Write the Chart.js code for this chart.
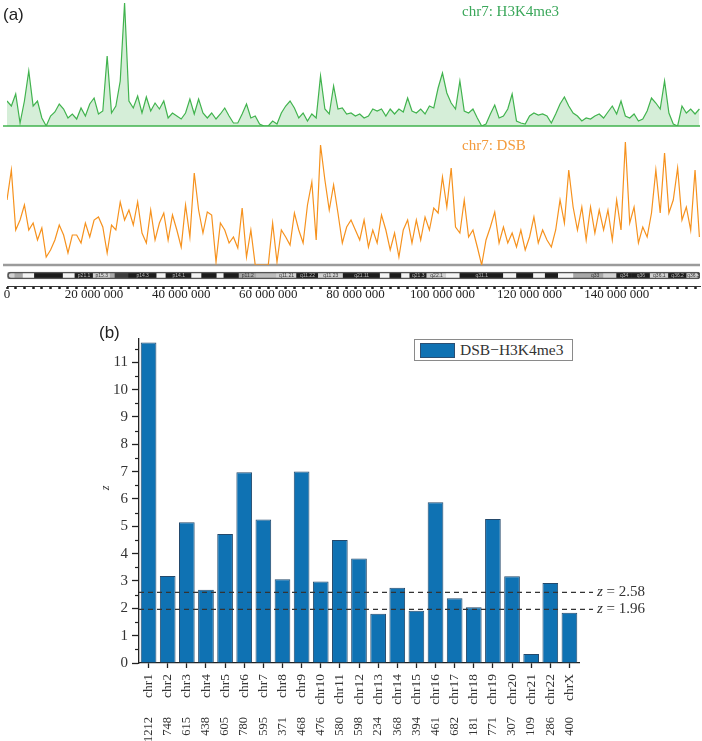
<!DOCTYPE html>
<html>
<head>
<meta charset="utf-8">
<script src="https://cdn.jsdelivr.net/npm/chart.js@4/dist/chart.umd.min.js"></script>
<style>
body { margin: 0; background: #fff; }
#wrap { position: relative; width: 702px; height: 741px; overflow: hidden; font-family: 'Liberation Serif', serif; }
canvas { position: absolute; left: 0; }
.lbl { position: absolute; white-space: nowrap; line-height: 1; }
</style>
</head>
<body>
<div id="wrap">
  <canvas id="green" width="702" height="128" style="top:0"></canvas>
  <canvas id="orange" width="702" height="137" style="top:130px"></canvas>
  <canvas id="ideo" width="702" height="48" style="top:262px"></canvas>
  <canvas id="bars" width="702" height="431" style="top:310px"></canvas>

  <div class="lbl" style="left:3px;top:5px;font:17px 'Liberation Sans',sans-serif;color:#222">(a)</div>
  <div class="lbl" style="left:462px;top:4px;font-size:15px;color:#3aa75a">chr7: H3K4me3</div>
  <div class="lbl" style="left:462px;top:138px;font-size:15px;color:#f39a3b">chr7: DSB</div>
  <div class="lbl" style="left:99px;top:323px;font:17px 'Liberation Sans',sans-serif;color:#222">(b)</div>
  <div class="lbl" style="left:103px;top:482px;font-size:12px;font-style:italic;color:#333;transform:rotate(-90deg)">z</div>
  <div class="lbl" style="left:414px;top:339px;width:157px;height:20px;border:1px solid #8a8a8a;background:#fff">
    <div style="position:absolute;left:5px;top:3px;width:33px;height:13px;background:#0f72b3;border:1px solid #2a4f73"></div>
    <div style="position:absolute;left:45px;top:2px;font-size:15.5px;color:#333">DSB&minus;H3K4me3</div>
  </div>
</div>
<script>
// chr7 tracks, 1 Mb bins
var binSize = 1e6;
var chrLength = 159138663;
var minorStep = 2e6;
var labelStep = 20e6;

var h3k4me3 = [
  25, 20, 32, 3, 25, 55, 20, 25, 8, 0,
  10, 14, 22, 17, 8, 12, 7, 18, 10, 22,
  28, 12, 15, 70, 13, 20, 45, 123, 25, 18,
  30, 13, 29, 15, 23, 17, 25, 8, 13, 10,
  7, 13, 27, 12, 27, 13, 8, 13, 7, 12,
  18, 10, 3, 3, 12, 22, 8, 10, 2, 0,
  0, 5, 2, 13, 20, 25, 18, 8, 13, 5,
  12, 8, 50, 17, 12, 40, 17, 18, 12, 13,
  10, 12, 8, 10, 17, 15, 17, 10, 17, 12,
  17, 14, 28, 15, 13, 17, 12, 20, 18, 38,
  53, 33, 23, 17, 45, 15, 13, 17, 8, 0,
  2, 12, 21, 8, 10, 17, 32, 5, 3, 2,
  10, 13, 11, 12, 10, 3, 12, 22, 29, 20,
  13, 10, 5, 8, 7, 10, 12, 8, 14, 20,
  12, 25, 10, 8, 12, 5, 7, 15, 28, 23,
  17, 45, 13, 2, 0, 20, 13, 17, 12, 17
];

var dsb = [
  65, 95, 35, 45, 60, 35, 42, 25, 37, 8,
  15, 25, 40, 30, 12, 30, 30, 22, 42, 28,
  45, 48, 38, 12, 40, 35, 63, 45, 55, 40,
  63, 32, 22, 55, 25, 42, 52, 25, 50, 35,
  18, 60, 28, 92, 55, 32, 53, 50, 3, 42,
  35, 22, 28, 17, 57, 8, 35, 0, 0, 0,
  0, 42, 3, 35, 28, 20, 52, 35, 22, 60,
  83, 25, 120, 85, 55, 80, 52, 22, 38, 45,
  35, 25, 45, 18, 35, 22, 50, 35, 15, 32,
  8, 35, 45, 22, 45, 25, 48, 35, 57, 52,
  88, 58, 97, 38, 32, 65, 28, 35, 18, 0,
  25, 38, 53, 22, 38, 22, 32, 18, 35, 15,
  28, 48, 22, 35, 25, 18, 35, 65, 42, 95,
  58, 35, 58, 25, 58, 32, 55, 35, 55, 25,
  65, 35, 123, 42, 58, 22, 38, 28, 52, 95,
  52, 112, 52, 65, 97, 45, 58, 35, 95, 28
];

// ideogram bands (Mb)
var bandStart = [0, 1.8, 3.7, 6.3, 12.9, 15.6, 19.8, 23.7, 24.8, 27.9, 34.4, 36.5, 42.4, 44.7, 48.2, 49.8, 53.3, 57.3, 61.9, 66.5, 71.5, 77.2, 85.7, 87.9, 90.6, 92.5, 96.4, 100.9, 104, 114, 117, 120.9, 123.6, 126.6, 130.1, 133.1, 137, 140, 143.4, 147.7, 151.9, 156.1];
var bandEnd = [1.8, 3.7, 6.3, 12.9, 15.6, 19.8, 23.7, 24.8, 27.9, 34.4, 36.5, 42.4, 44.7, 48.2, 49.8, 53.3, 57.3, 61.9, 66.5, 71.5, 77.2, 85.7, 87.9, 90.6, 92.5, 96.4, 100.9, 104, 114, 117, 120.9, 123.6, 126.6, 130.1, 133.1, 137, 140, 143.4, 147.7, 151.9, 156.1, 159.14];
var bandStain = ['light', 'gray', 'white', 'black', 'white', 'black', 'light', 'gray', 'dark', 'black', 'white', 'black', 'white', 'black', 'white', 'black', 'gray', 'cen', 'light', 'black', 'light', 'black', 'white', 'black', 'white', 'black', 'light', 'white', 'black', 'white', 'black', 'white', 'black', 'white', 'gray', 'gray', 'light', 'black', 'black', 'light', 'black', 'light'];
var bandName = ['', '', '', '', '', 'p21.1', 'p15.3', '', '', 'p14.3', '', 'p14.1', '', '', '', '', 'p11.2', '', 'q11.21', 'q11.22', 'q11.23', 'q21.11', '', '', '', 'q21.3', 'q22.1', '', 'q31.1', '', '', '', '', '', '', 'q33', '', 'q34', 'q36', 'q36.1', 'q36.2', 'q36.3'];
var stainColor = { white: '#f4f4f4', light: '#d2d2d2', gray: '#a8a8a8', cen: '#bdbdbd', dark: '#3c3c3c', black: '#1c1c1c' };

// panel (b)
var chromosomes = ['chr1', 'chr2', 'chr3', 'chr4', 'chr5', 'chr6', 'chr7', 'chr8', 'chr9', 'chr10', 'chr11', 'chr12', 'chr13', 'chr14', 'chr15', 'chr16', 'chr17', 'chr18', 'chr19', 'chr20', 'chr21', 'chr22', 'chrX'];
var zScores = [11.72, 3.18, 5.15, 2.68, 4.72, 6.98, 5.25, 3.06, 7.0, 2.98, 4.5, 3.82, 1.8, 2.75, 1.91, 5.88, 2.37, 2.04, 5.27, 3.17, 0.33, 2.93, 1.84];
var counts = [1212, 748, 615, 438, 605, 780, 595, 371, 468, 476, 580, 598, 234, 368, 394, 461, 682, 181, 771, 307, 109, 286, 400];
var thresholds = [2.58, 1.96];

Chart.defaults.font.family = "'Liberation Serif', serif";
Chart.defaults.animation = false;
Chart.defaults.plugins.legend.display = false;
Chart.defaults.plugins.tooltip.enabled = false;

function toPoints(arr) {
    return arr.map(function (v, i) { return {x: i * binSize, y: v}; });
}

function fmt(v) {
    return String(Math.round(v)).replace(/\B(?=(\d{3})+(?!\d))/g, ' ');
}

// baseline under a track
function baseline(color, width) {
    return {
        id: 'baseline',
        beforeDatasetsDraw: function (chart) {
            var ctx = chart.ctx, a = chart.chartArea;
            var py = chart.scales.y.getPixelForValue(0);
            ctx.save();
            ctx.strokeStyle = color;
            ctx.lineWidth = width;
            ctx.beginPath();
            ctx.moveTo(3, py);
            ctx.lineTo(a.right, py);
            ctx.stroke();
            ctx.restore();
        }
    };
}

function trackChart(id, values, color, fillColor, max, pad, base) {
    return new Chart(document.getElementById(id), {
        type: 'line',
        data: {
            datasets: [{
                data: toPoints(values),
                borderColor: color,
                backgroundColor: fillColor,
                fill: fillColor ? 'origin' : false,
                borderWidth: 1.2,
                pointRadius: 0,
                tension: 0
            }]
        },
        options: {
            responsive: false,
            layout: {padding: pad},
            scales: {
                x: {type: 'linear', display: false, min: 0, max: chrLength},
                y: {display: false, min: 0, max: max}
            }
        },
        plugins: [base]
    });
}

// Green track
trackChart('green', h3k4me3, '#41b34e', 'rgba(65,179,78,0.22)', 124, {left: 7, right: 2, top: 2, bottom: 2}, baseline('#41b34e', 1.5));

// Orange track
trackChart('orange', dsb, '#f6921e', null, 125, {left: 7, right: 2, top: 10, bottom: 2}, baseline('#9b9b9b', 2.5));

// Ideogram + coordinate axis
var bandLabels = {
    id: 'bandLabels',
    afterDatasetsDraw: function (chart) {
        var ctx = chart.ctx, x = chart.scales.x;
        var cy = (chart.chartArea.top + chart.chartArea.bottom) / 2;
        ctx.save();
        ctx.font = "5px 'Liberation Sans', sans-serif";
        ctx.textAlign = 'center';
        ctx.textBaseline = 'middle';
        bandName.forEach(function (n, i) {
            if (!n) return;
            var dark = bandStain[i] === 'black' || bandStain[i] === 'dark';
            ctx.fillStyle = dark ? '#bbbbbb' : '#333333';
            ctx.fillText(n, x.getPixelForValue((bandStart[i] + bandEnd[i]) / 2 * 1e6), cy);
        });
        ctx.restore();
    }
};

new Chart(document.getElementById('ideo'), {
    type: 'bar',
    data: {
        labels: ['chr7'],
        datasets: [{
            data: [{x: [0, chrLength], y: 'chr7'}],
            backgroundColor: 'rgba(0,0,0,0)',
            borderColor: '#555',
            borderWidth: 1,
            borderSkipped: false,
            borderRadius: 3,
            barThickness: 7
        }, {
            data: bandStart.map(function (s, i) { return {x: [s * 1e6, bandEnd[i] * 1e6], y: 'chr7'}; }),
            backgroundColor: bandStain.map(function (s) { return stainColor[s]; }),
            borderWidth: 0,
            barThickness: 6
        }]
    },
    options: {
        responsive: false,
        indexAxis: 'y',
        grouped: false,
        layout: {padding: {left: 7, right: 2, top: 3, bottom: 0}},
        scales: {
            y: {display: false},
            x: {
                type: 'linear', min: 0, max: chrLength,
                afterFit: function (s) { s.height = 24; },
                afterBuildTicks: function (s) {
                    var t = [];
                    for (var v = 0; v <= s.max; v += minorStep) t.push({value: v});
                    s.ticks = t;
                },
                border: {color: '#333', width: 1},
                grid: {drawOnChartArea: false, tickLength: 3, tickWidth: 2.5, tickColor: '#222'},
                ticks: {
                    autoSkip: false, maxRotation: 0, minRotation: 0, padding: -2,
                    color: '#222', font: {size: 13},
                    callback: function (v) { return v % labelStep === 0 ? fmt(v) : ''; }
                }
            }
        }
    },
    plugins: [bandLabels]
});

// Bar chart extras: minor ticks, thresholds
var barExtras = {
    id: 'barExtras',
    afterDatasetsDraw: function (chart) {
        var ctx = chart.ctx, a = chart.chartArea, y = chart.scales.y;
        ctx.save();
        ctx.strokeStyle = '#222';
        ctx.lineWidth = 1.2;
        for (var v = 0.5; v < y.max; v += 1) {
            var py = Math.round(y.getPixelForValue(v)) + 0.5;
            ctx.beginPath();
            ctx.moveTo(a.left - 4, py);
            ctx.lineTo(a.left, py);
            ctx.stroke();
        }
        ctx.setLineDash([5, 4]);
        ctx.strokeStyle = '#333';
        ctx.lineWidth = 1.3;
        ctx.fillStyle = '#333';
        ctx.textBaseline = 'middle';
        thresholds.forEach(function (t) {
            var py = y.getPixelForValue(t);
            ctx.beginPath();
            ctx.moveTo(a.left, py);
            ctx.lineTo(a.right + 14, py);
            ctx.stroke();
            var tx = a.right + 18;
            ctx.font = "italic 15px 'Liberation Serif', serif";
            ctx.fillText('z', tx, py);
            tx += ctx.measureText('z').width;
            ctx.font = "15px 'Liberation Serif', serif";
            ctx.fillText(' = ' + t.toFixed(2), tx, py);
        });
        ctx.restore();
    }
};

new Chart(document.getElementById('bars'), {
    type: 'bar',
    data: {
        labels: chromosomes,
        datasets: [{
            label: 'DSB\u2212H3K4me3',
            data: zScores,
            backgroundColor: '#0f72b3',
            borderColor: '#24496b',
            borderWidth: 1,
            categoryPercentage: 1,
            barPercentage: 0.82
        }]
    },
    options: {
        responsive: false,
        layout: {padding: {left: 100, right: 123, top: 29, bottom: 0}},
        scales: {
            y: {
                min: 0, max: 11.85,
                afterFit: function (s) { s.width = 39; },
                afterBuildTicks: function (s) {
                    s.ticks = s.ticks.filter(function (t) { return Number.isInteger(t.value); });
                },
                border: {color: '#222', width: 1.3},
                grid: {drawOnChartArea: false, tickLength: 7, tickColor: '#222', tickWidth: 1.3},
                ticks: {stepSize: 1, padding: 4, color: '#333', font: {size: 15}}
            },
            x: {
                offset: true,
                afterFit: function (s) { s.height = 44; },
                border: {color: '#222', width: 1.3},
                grid: {offset: false, drawOnChartArea: false, tickLength: 5, tickColor: '#222', tickWidth: 1.3},
                ticks: {minRotation: 90, maxRotation: 90, padding: 6, autoSkip: false, color: '#333', font: {size: 13.5}}
            },
            x2: {
                type: 'category',
                position: 'bottom',
                labels: counts.map(String),
                offset: true,
                afterFit: function (s) { s.height = 34; },
                border: {display: false},
                grid: {display: false},
                ticks: {minRotation: 90, maxRotation: 90, padding: 2, autoSkip: false, color: '#333', font: {size: 12.5}}
            }
        }
    },
    plugins: [barExtras]
});
</script>
</body>
</html>
